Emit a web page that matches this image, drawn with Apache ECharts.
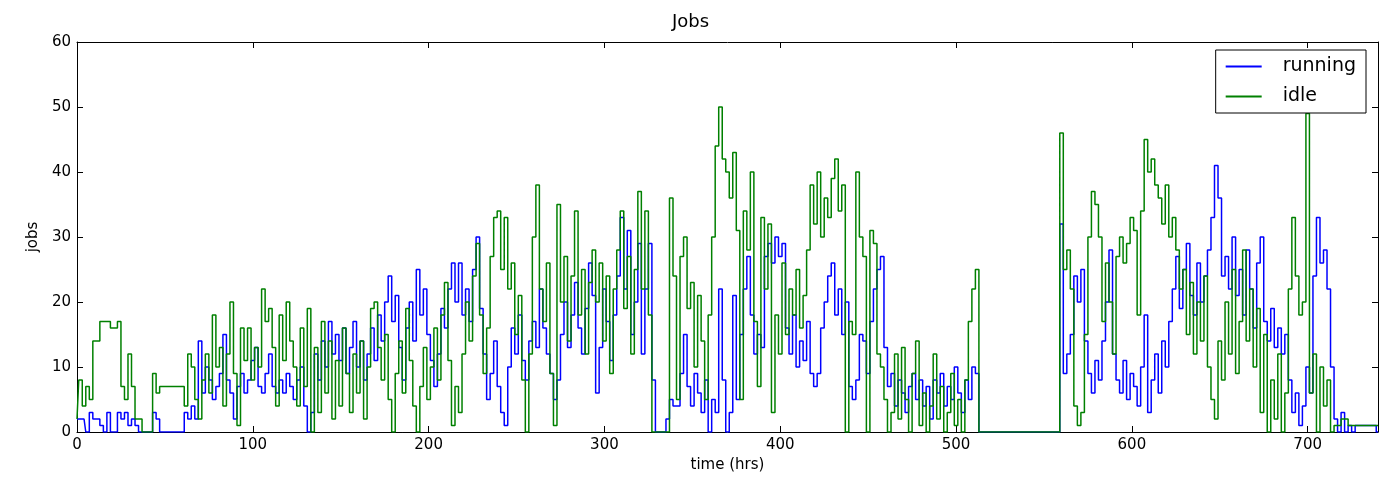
<!DOCTYPE html>
<html>
<head>
<meta charset="utf-8">
<title>Jobs</title>
<script src="https://cdn.jsdelivr.net/npm/echarts@6/dist/echarts.min.js"></script>
<style>
  html, body { margin: 0; padding: 0; background: #fff; }
  #chart { width: 1381px; height: 478px; }
</style>
</head>
<body>
<div id="chart"></div>
<script>
// sampled every 2 hours, 0 .. 740
var STEP = 2
var xTicks = [0, 100, 200, 300, 400, 500, 600, 700]
var yTicks = [0, 10, 20, 30, 40, 50, 60]

var running = [
  2, 2, 2, 0, 3, 2, 2, 1, 0, 3,
  0, 0, 3, 2, 3, 1, 2, 1, 0, 0,
  0, 0, 3, 2, 0, 0, 0, 0, 0, 0,
  0, 3, 2, 4, 2, 14, 6, 10, 8, 5,
  7, 9, 15, 8, 6, 2, 7, 9, 6, 8,
  11, 13, 7, 6, 9, 12, 7, 6, 8, 6,
  9, 7, 5, 8, 10, 4, 0, 3, 12, 8,
  14, 10, 17, 12, 15, 11, 16, 9, 13, 17,
  10, 14, 8, 12, 16, 11, 18, 14, 20, 24,
  17, 21, 13, 8, 16, 20, 14, 25, 18, 22,
  15, 11, 7, 12, 19, 16, 22, 26, 20, 26,
  18, 22, 17, 25, 30, 19, 12, 5, 9, 14,
  7, 3, 1, 10, 16, 12, 18, 11, 8, 14,
  17, 13, 22, 16, 12, 9, 5, 8, 15, 20,
  13, 18, 23, 16, 12, 19, 26, 21, 6, 13,
  22, 17, 11, 18, 24, 33, 22, 31, 15, 20,
  29, 12, 22, 29, 8, 0, 0, 0, 2, 5,
  4, 4, 9, 15, 7, 4, 9, 6, 3, 8,
  0, 5, 3, 22, 8, 0, 3, 21, 5, 15,
  22, 27, 18, 12, 15, 13, 27, 29, 26, 30,
  27, 29, 16, 12, 18, 10, 14, 11, 17, 9,
  7, 9, 16, 20, 24, 26, 18, 22, 15, 20,
  7, 5, 8, 15, 14, 9, 17, 22, 25, 27,
  13, 7, 9, 4, 8, 6, 3, 7, 9, 5,
  8, 4, 7, 2, 8, 6, 9, 4, 7, 5,
  10, 6, 3, 8, 5, 10, 9, 0, 0, 0,
  0, 0, 0, 0, 0, 0, 0, 0, 0, 0,
  0, 0, 0, 0, 0, 0, 0, 0, 0, 0,
  32, 9, 12, 15, 24, 20, 25, 14, 9, 6,
  11, 8, 14, 20, 28, 12, 8, 6, 11, 5,
  9, 7, 4, 10, 18, 3, 8, 12, 6, 14,
  10, 17, 22, 27, 19, 25, 29, 21, 18, 26,
  20, 24, 28, 33, 41, 36, 24, 27, 22, 30,
  21, 25, 18, 28, 22, 16, 26, 30, 17, 14,
  19, 13, 16, 12, 15, 8, 3, 6, 1, 4,
  10, 6, 24, 33, 26, 28, 22, 10, 2, 0,
  3, 0, 1, 0, 1, 1, 1, 1, 1, 1,
  0
]

var idle = [
  2, 8, 4, 7, 5, 14, 14, 17, 17, 17,
  16, 16, 17, 7, 5, 12, 7, 2, 2, 0,
  0, 0, 9, 6, 7, 7, 7, 7, 7, 7,
  7, 4, 12, 10, 5, 2, 8, 12, 6, 18,
  10, 13, 4, 12, 20, 9, 1, 16, 11, 16,
  8, 13, 10, 22, 17, 19, 13, 4, 18, 11,
  20, 14, 10, 4, 16, 7, 19, 0, 13, 3,
  17, 6, 14, 2, 11, 4, 16, 9, 3, 12,
  6, 14, 2, 10, 19, 20, 13, 8, 15, 5,
  0, 9, 14, 6, 19, 11, 4, 0, 7, 13,
  5, 10, 16, 8, 18, 23, 11, 1, 7, 3,
  12, 20, 14, 24, 29, 18, 9, 16, 27, 33,
  34, 25, 33, 22, 26, 15, 21, 8, 0, 12,
  30, 38, 22, 17, 26, 9, 1, 35, 20, 27,
  14, 24, 34, 18, 25, 12, 23, 28, 20, 26,
  14, 24, 9, 22, 28, 34, 19, 27, 12, 25,
  37, 22, 34, 18, 0, 0, 0, 0, 0, 36,
  24, 5, 27, 30, 19, 23, 10, 21, 14, 5,
  18, 30, 44, 50, 42, 40, 36, 43, 31, 5,
  34, 28, 40, 17, 7, 33, 22, 32, 3, 18,
  12, 26, 15, 22, 18, 25, 16, 21, 28, 38,
  32, 40, 30, 36, 33, 39, 42, 34, 38, 0,
  17, 15, 40, 30, 27, 0, 31, 29, 12, 10,
  5, 0, 3, 12, 2, 13, 5, 0, 9, 14,
  1, 6, 0, 4, 12, 2, 7, 0, 3, 9,
  1, 5, 0, 8, 17, 22, 25, 0, 0, 0,
  0, 0, 0, 0, 0, 0, 0, 0, 0, 0,
  0, 0, 0, 0, 0, 0, 0, 0, 0, 0,
  46, 25, 28, 22, 4, 1, 3, 15, 30, 37,
  35, 30, 17, 26, 20, 12, 27, 30, 26, 29,
  33, 31, 18, 34, 45, 40, 42, 38, 36, 32,
  38, 30, 33, 28, 22, 25, 15, 23, 12, 20,
  14, 24, 10, 5, 2, 14, 8, 20, 12, 25,
  9, 17, 28, 14, 22, 10, 19, 3, 15, 0,
  8, 2, 12, 0, 6, 22, 33, 24, 18, 20,
  49, 6, 12, 0, 10, 4, 8, 0, 1, 1,
  2, 2, 1, 1, 1, 1, 1, 1, 1, 1,
  1
]

function pairs (arr) {
  return arr.map(function (v, i) { return [i * STEP, v] })
}

var FONT = 'DejaVu Sans'
var xMax = (running.length - 1) * STEP

function xAxisDef (pos, showLabel) {
  return {
    type: 'value',
    position: pos,
    min: xTicks[0],
    max: xMax,
    interval: xTicks[1] - xTicks[0],
    axisLine: { show: true, onZero: false, lineStyle: { color: '#000', width: 1 } },
    axisTick: { show: true, inside: true, length: 6, lineStyle: { color: '#000' } },
    axisLabel: {
      show: showLabel, showMaxLabel: false, color: '#000',
      fontFamily: FONT, fontSize: 15, margin: 6
    },
    splitLine: { show: false }
  }
}

function yAxisDef (pos, showLabel) {
  return {
    type: 'value',
    position: pos,
    min: yTicks[0],
    max: yTicks[yTicks.length - 1],
    interval: yTicks[1] - yTicks[0],
    axisLine: { show: true, onZero: false, lineStyle: { color: '#000', width: 1 } },
    axisTick: { show: true, inside: true, length: 6, lineStyle: { color: '#000' } },
    axisLabel: { show: showLabel, color: '#000', fontFamily: FONT, fontSize: 15, margin: 6 },
    splitLine: { show: false }
  }
}

var xBottom = xAxisDef('bottom', true)
xBottom.name = 'time (hrs)'
xBottom.nameLocation = 'middle'
xBottom.nameGap = 26
xBottom.nameTextStyle = { color: '#000', fontFamily: FONT, fontSize: 15 }

var yLeft = yAxisDef('left', true)
yLeft.name = 'jobs'
yLeft.nameLocation = 'middle'
yLeft.nameGap = 36
yLeft.nameTextStyle = { color: '#000', fontFamily: FONT, fontSize: 15 }

var chart = echarts.init(document.getElementById('chart'), null, { renderer: 'canvas' })
chart.setOption({
  backgroundColor: '#fff',
  animation: false,
  title: {
    text: 'Jobs',
    left: 'center',
    top: 8,
    textStyle: { color: '#000', fontFamily: FONT, fontSize: 18, fontWeight: 'normal' }
  },
  grid: { left: 77, right: 3, top: 42, bottom: 42, containLabel: false },
  legend: {
    orient: 'vertical',
    right: 15,
    top: 50,
    padding: [7, 10, 7, 10],
    itemGap: 11,
    itemWidth: 36,
    itemHeight: 2,
    icon: 'rect',
    borderColor: '#000',
    borderWidth: 1,
    backgroundColor: '#fff',
    textStyle: { color: '#000', fontFamily: FONT, fontSize: 19, padding: [0, 0, 0, 16] },
    data: ['running', 'idle']
  },
  xAxis: [xBottom, xAxisDef('top', false)],
  yAxis: [yLeft, yAxisDef('right', false)],
  series: [
    {
      name: 'running',
      type: 'line',
      step: 'middle',
      data: pairs(running),
      symbol: 'none',
      color: '#0000ff',
      lineStyle: { color: '#0000ff', width: 1.5 }
    },
    {
      name: 'idle',
      type: 'line',
      step: 'middle',
      data: pairs(idle),
      symbol: 'none',
      color: '#008000',
      lineStyle: { color: '#008000', width: 1.5 }
    }
  ]
})
window.addEventListener('resize', function () { chart.resize() })
</script>
</body>
</html>
